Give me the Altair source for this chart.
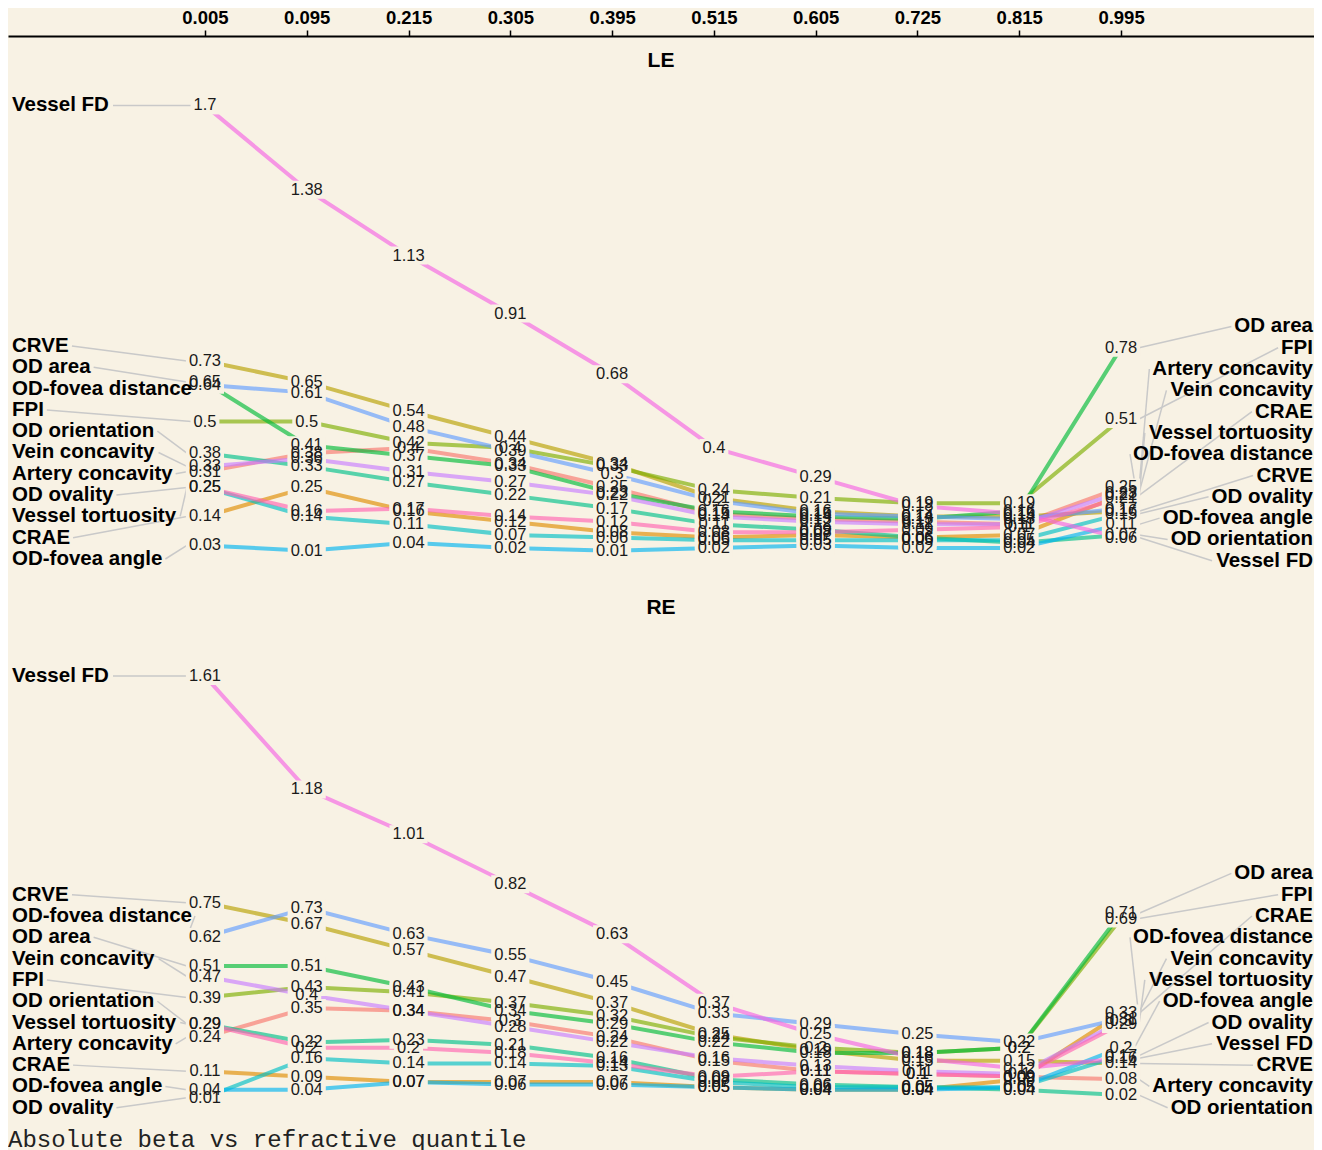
import altair as alt
import pandas as pd

# ---------------- data ----------------
QUANTILES = ["0.005", "0.095", "0.215", "0.305", "0.395", "0.515", "0.605", "0.725", "0.815", "0.995"]

FEATURES = ["Artery concavity", "CRAE", "CRVE", "FPI", "OD area", "OD orientation",
            "OD ovality", "OD-fovea angle", "OD-fovea distance", "Vein concavity",
            "Vessel FD", "Vessel tortuosity"]
COLORS = ["#F8766D", "#DE8C00", "#B79F00", "#7CAE00", "#00BA38", "#00C08B",
          "#00BFC4", "#00B4F0", "#619CFF", "#C77CFF", "#F564E3", "#FF64B0"]

LE_artery_concavity = [0.31, 0.38, 0.40, 0.34, 0.25, 0.15, 0.13, 0.12, 0.11, 0.25]
LE_crae = [0.14, 0.25, 0.16, 0.12, 0.08, 0.06, 0.07, 0.06, 0.07, 0.22]
LE_crve = [0.73, 0.65, 0.54, 0.44, 0.34, 0.21, 0.16, 0.14, 0.14, 0.16]
LE_fpi = [0.50, 0.50, 0.42, 0.40, 0.33, 0.24, 0.21, 0.19, 0.19, 0.51]
LE_od_area = [0.65, 0.41, 0.37, 0.33, 0.23, 0.16, 0.14, 0.13, 0.16, 0.78]
LE_od_orientation = [0.38, 0.33, 0.27, 0.22, 0.17, 0.11, 0.09, 0.06, 0.04, 0.07]
LE_od_ovality = [0.25, 0.14, 0.11, 0.07, 0.06, 0.05, 0.05, 0.05, 0.05, 0.15]
LE_od_fovea_angle = [0.03, 0.01, 0.04, 0.02, 0.01, 0.02, 0.03, 0.02, 0.02, 0.11]
LE_od_fovea_distance = [0.64, 0.61, 0.48, 0.39, 0.30, 0.20, 0.15, 0.14, 0.13, 0.17]
LE_vein_concavity = [0.33, 0.36, 0.31, 0.27, 0.22, 0.14, 0.12, 0.11, 0.11, 0.23]
LE_vessel_fd = [1.70, 1.38, 1.13, 0.91, 0.68, 0.40, 0.29, 0.18, 0.15, 0.06]
LE_vessel_tortuosity = [0.25, 0.16, 0.17, 0.14, 0.12, 0.08, 0.08, 0.09, 0.10, 0.21]

RE_artery_concavity = [0.24, 0.35, 0.34, 0.30, 0.24, 0.15, 0.11, 0.10, 0.09, 0.08]
RE_crae = [0.11, 0.09, 0.07, 0.07, 0.07, 0.05, 0.04, 0.04, 0.08, 0.33]
RE_crve = [0.75, 0.67, 0.57, 0.47, 0.37, 0.25, 0.19, 0.15, 0.15, 0.14]
RE_fpi = [0.39, 0.43, 0.41, 0.37, 0.32, 0.24, 0.20, 0.18, 0.20, 0.69]
RE_od_area = [0.51, 0.51, 0.43, 0.34, 0.29, 0.22, 0.18, 0.18, 0.20, 0.71]
RE_od_orientation = [0.29, 0.22, 0.23, 0.21, 0.16, 0.08, 0.06, 0.05, 0.04, 0.02]
RE_od_ovality = [0.01, 0.16, 0.14, 0.14, 0.13, 0.07, 0.05, 0.05, 0.05, 0.17]
RE_od_fovea_angle = [0.04, 0.04, 0.07, 0.06, 0.06, 0.05, 0.04, 0.04, 0.05, 0.20]
RE_od_fovea_distance = [0.62, 0.73, 0.63, 0.55, 0.45, 0.33, 0.29, 0.25, 0.22, 0.31]
RE_vein_concavity = [0.47, 0.40, 0.34, 0.28, 0.22, 0.16, 0.13, 0.11, 0.10, 0.30]
RE_vessel_fd = [1.61, 1.18, 1.01, 0.82, 0.63, 0.37, 0.25, 0.16, 0.12, 0.16]
RE_vessel_tortuosity = [0.29, 0.20, 0.20, 0.18, 0.14, 0.09, 0.11, 0.10, 0.09, 0.29]

LE = dict(zip(FEATURES, [LE_artery_concavity, LE_crae, LE_crve, LE_fpi, LE_od_area,
                         LE_od_orientation, LE_od_ovality, LE_od_fovea_angle,
                         LE_od_fovea_distance, LE_vein_concavity, LE_vessel_fd,
                         LE_vessel_tortuosity]))
RE = dict(zip(FEATURES, [RE_artery_concavity, RE_crae, RE_crve, RE_fpi, RE_od_area,
                         RE_od_orientation, RE_od_ovality, RE_od_fovea_angle,
                         RE_od_fovea_distance, RE_vein_concavity, RE_vessel_fd,
                         RE_vessel_tortuosity]))

TITLE = "Absolute beta vs refractive quantile"

# ---------------- style / layout constants ----------------
BG = "#F8F2E4"
W = 1306
XMIN, XMAX = -1.935, 10.896
YMAX = 1.785
PX_Y = 263.5
H_LE, H_RE = 504, 490
PX_X = W / (XMAX - XMIN)
LABEL_FS = 20.5
VALUE_FS = 16.5
LABEL_GAP = 21.3 / PX_Y
LABEL_LO = -0.028
LEFT_X = XMIN + 4 / PX_X
RIGHT_X = XMAX - 1 / PX_X

BOLD_W = {' ': 278, 'A': 722, 'C': 722, 'D': 722, 'E': 667, 'F': 611, 'I': 278, 'O': 778,
          'P': 667, 'R': 722, 'V': 667, 'a': 556, 'c': 556, 'd': 611, 'e': 556, 'f': 333,
          'g': 611, 'i': 278, 'l': 278, 'n': 611, 'o': 611, 'r': 389, 's': 556, 't': 333,
          'u': 611, 'v': 556, 'y': 556, '-': 333}
REG_W = {'.': 278}


def text_w(s, size, table):
    return sum(table.get(c, 556) for c in s) * size / 1000.0


def fmt(v):
    return f"{v:.2f}".rstrip("0").rstrip(".")


def pav_nonincreasing(vals):
    blocks = []
    for v in vals:
        blocks.append([v, 1])
        while len(blocks) > 1 and blocks[-2][0] / blocks[-2][1] < blocks[-1][0] / blocks[-1][1]:
            s, c = blocks.pop()
            blocks[-1][0] += s
            blocks[-1][1] += c
    out = []
    for s, c in blocks:
        out += [s / c] * c
    return out


def place(targets, gap, lo):
    z = [t + i * gap for i, t in enumerate(targets)]
    zf = pav_nonincreasing(z)
    p = [zf[i] - i * gap for i in range(len(targets))]
    if p[-1] < lo:
        p[-1] = lo
        for i in range(len(p) - 2, -1, -1):
            p[i] = max(p[i], p[i + 1] + gap)
    return p


# ---------------- build tables ----------------
val_rows, lab_rows = [], []
for panel, data in [("LE", LE), ("RE", RE)]:
    for f in FEATURES:
        for i, v in enumerate(data[f]):
            lab = fmt(v)
            w = text_w(lab, VALUE_FS, REG_W)
            val_rows.append(dict(panel=panel, feature=f, xi=i, value=v, label=lab,
                                 bx1=i - (w / 2 + 3) / PX_X, bx2=i + (w / 2 + 3) / PX_X,
                                 by1=v - 9 / PX_Y, by2=v + 9 / PX_Y))
    for side, col in [("left", 0), ("right", 9)]:
        items = sorted([(data[f][col], k, f) for k, f in enumerate(FEATURES)],
                       key=lambda t: (-t[0], t[1]))
        ys = place([t[0] for t in items], LABEL_GAP, LABEL_LO)
        for (v, _, f), y in zip(items, ys):
            wl = text_w(f, LABEL_FS, BOLD_W)
            wv = text_w(fmt(v), VALUE_FS, REG_W)
            if side == "left":
                lx = LEFT_X
                sx = lx + (wl + 3) / PX_X
                ex = col - (wv / 2 + 2) / PX_X
            else:
                lx = RIGHT_X
                sx = lx - (wl + 3) / PX_X
                ex = col + (wv / 2 + 2) / PX_X
            lab_rows.append(dict(panel=panel, side=side, feature=f, lx=lx, ly=y,
                                 sx=sx, sy=y, ex=ex, ey=v))

vals = pd.DataFrame(val_rows)
labs = pd.DataFrame(lab_rows)

xs = alt.Scale(domain=[XMIN, XMAX], nice=False, zero=False)
cs = alt.Scale(domain=FEATURES, range=COLORS)


def panel_chart(panel, H, title_offset):
    ys = alt.Scale(domain=[YMAX - H / PX_Y, YMAX], nice=False, zero=False)
    v = vals[vals.panel == panel]
    l = labs[labs.panel == panel]

    seg = alt.Chart(l).mark_rule(color="#c9c9c9", strokeWidth=1.5).encode(
        x=alt.X("sx:Q", scale=xs, axis=None), x2="ex:Q",
        y=alt.Y("sy:Q", scale=ys, axis=None), y2="ey:Q")
    lines = alt.Chart(v).mark_line(strokeWidth=4, opacity=0.65).encode(
        x=alt.X("xi:Q", scale=xs, axis=None),
        y=alt.Y("value:Q", scale=ys, axis=None),
        color=alt.Color("feature:N", scale=cs, legend=None),
        order="xi:Q")
    boxes = alt.Chart(v).mark_rect(fill=BG).encode(
        x=alt.X("bx1:Q", scale=xs, axis=None), x2="bx2:Q",
        y=alt.Y("by1:Q", scale=ys, axis=None), y2="by2:Q")
    vtext = alt.Chart(v).mark_text(font="Liberation Sans", fontSize=VALUE_FS, color="#1a1a1a",
                                   baseline="middle").encode(
        x=alt.X("xi:Q", scale=xs, axis=None),
        y=alt.Y("value:Q", scale=ys, axis=None),
        text="label:N")
    ltext_l = alt.Chart(l[l.side == "left"]).mark_text(
        font="Liberation Sans", fontSize=LABEL_FS, fontWeight="bold", color="black",
        align="left", baseline="middle").encode(
        x=alt.X("lx:Q", scale=xs, axis=None),
        y=alt.Y("ly:Q", scale=ys, axis=None),
        text="feature:N")
    ltext_r = alt.Chart(l[l.side == "right"]).mark_text(
        font="Liberation Sans", fontSize=LABEL_FS, fontWeight="bold", color="black",
        align="right", baseline="middle").encode(
        x=alt.X("lx:Q", scale=xs, axis=None),
        y=alt.Y("ly:Q", scale=ys, axis=None),
        text="feature:N")
    return alt.layer(seg, lines, boxes, vtext, ltext_l, ltext_r).properties(
        width=W, height=H,
        title=alt.TitleParams(panel, fontSize=21, fontWeight="bold", font="Liberation Sans",
                              color="black", anchor="middle", offset=title_offset))


label_expr = "[" + ",".join(f"'{q}'" for q in QUANTILES) + "][datum.value]"
axis_chart = alt.Chart(pd.DataFrame({"xi": list(range(len(QUANTILES)))})).mark_point(
    opacity=0).encode(
    x=alt.X("xi:Q", scale=xs,
            axis=alt.Axis(orient="top", values=list(range(len(QUANTILES))), labelExpr=label_expr,
                          title=None, grid=False, domainColor="black", domainWidth=2,
                          tickColor="black", tickWidth=1.5, tickSize=6, labelPadding=3,
                          labelFont="Liberation Sans", labelFontSize=18.5,
                          labelFontWeight="bold", labelColor="black"))
).properties(width=W, height=1)

chart = alt.vconcat(axis_chart, panel_chart("LE", H_LE, 12), panel_chart("RE", H_RE, 12),
                    spacing=10).properties(
    background=BG,
    padding=0,
    title=alt.TitleParams(TITLE, orient="bottom", anchor="start", font="Liberation Mono",
                          fontSize=24, fontWeight="normal", color="#222222", offset=8)
).configure_view(stroke=None)

chart.save("out.html", embed_options={"renderer": "svg", "actions": False})
